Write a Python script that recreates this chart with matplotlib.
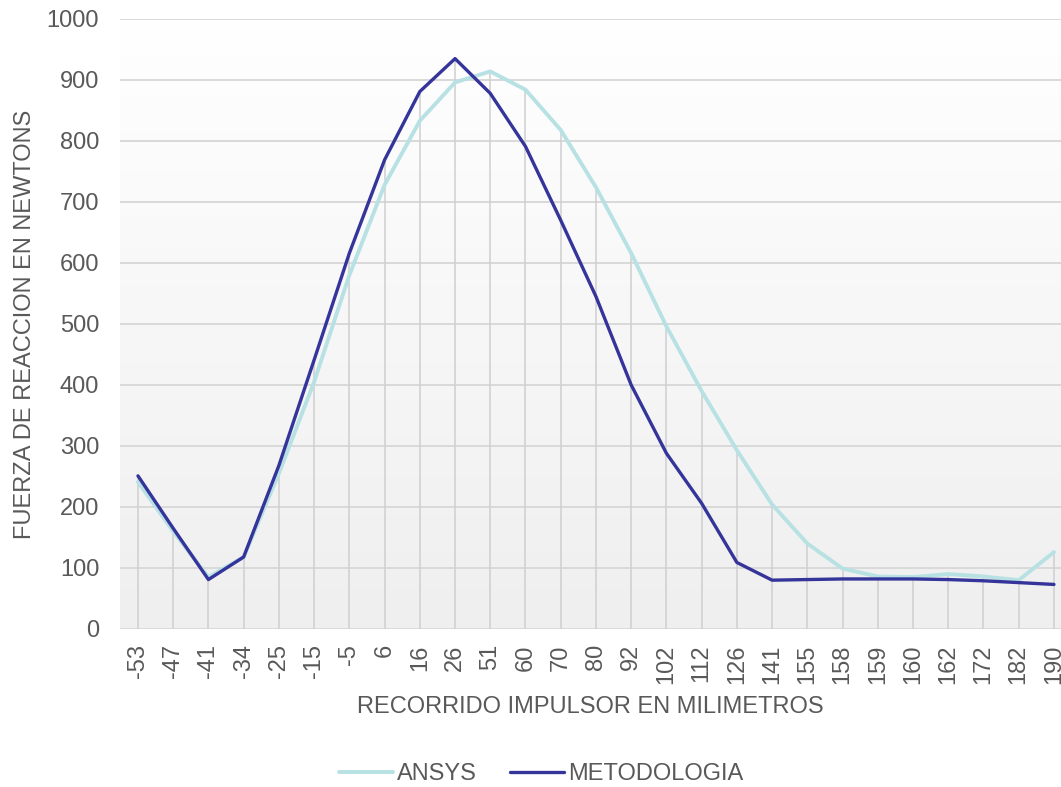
import matplotlib.pyplot as plt
import numpy as np

# Reaction force vs. impeller travel: FEA (ANSYS) against the hand methodology
recorrido_mm = [-53, -47, -41, -34, -25, -15, -5, 6, 16, 26, 51, 60, 70, 80,
                92, 102, 112, 126, 141, 155, 158, 159, 160, 162, 172, 182, 190]

ansys_n = [241, 160, 85, 118, 255, 405, 580, 728, 833, 896, 914, 884, 818, 724,
           616, 496, 390, 293, 204, 140, 99, 86, 85, 90, 86, 80, 126]

metodologia_n = [251, 165, 81, 118, 268, 441, 616, 769, 881, 935, 878, 791, 670, 545,
                 400, 288, 206, 109, 80, 81, 82, 82, 82, 81, 79, 76, 73]

TEXT_GREY = "#595959"
GRID_GREY = "#d9d9d9"
ANSYS_COLOR = "#b7e1e3"
METODO_COLOR = "#34349a"

plt.rcParams["font.family"] = ["Liberation Sans", "DejaVu Sans"]

fig = plt.figure(figsize=(10.61, 7.87), dpi=100)
ax = fig.add_axes([0.1131, 0.2008, 0.8869, 0.7751])

x = np.arange(len(recorrido_mm))
ansys = np.array(ansys_n)
metodo = np.array(metodologia_n)

# plot area fades from white at the top to light grey at the bottom
gradient = np.linspace(1.0, 0.0, 256).reshape(-1, 1)
ax.imshow(gradient, extent=[0, 1, 0, 1], transform=ax.transAxes,
          cmap=plt.matplotlib.colors.LinearSegmentedColormap.from_list(
              "bg", ["#efefef", "#ffffff"]),
          aspect="auto", zorder=0)

# horizontal gridlines
for yv in range(0, 1001, 100):
    ax.axhline(yv, color=GRID_GREY, linewidth=1.4, zorder=1)

# drop lines from the highest point of each category
ax.vlines(x, 0, np.maximum(ansys, metodo), color="#cfcfcf", linewidth=1.1, zorder=1)

ax.plot(x, ansys, color=ANSYS_COLOR, linewidth=2.8, label="ANSYS",
        solid_capstyle="round", zorder=3)
ax.plot(x, metodo, color=METODO_COLOR, linewidth=2.4, label="METODOLOGIA",
        solid_capstyle="round", zorder=4)

ax.set_xlim(-0.51, 26.2)
ax.set_ylim(0, 1000)
ax.set_yticks(range(0, 1001, 100))
ax.set_xticks(x)
ax.set_xticklabels([str(v) for v in recorrido_mm], rotation=90)

for side in ["top", "right", "left", "bottom"]:
    ax.spines[side].set_visible(False)

ax.tick_params(axis="both", length=0, labelsize=17, labelcolor=TEXT_GREY)
ax.tick_params(axis="y", pad=15)
ax.tick_params(axis="x", pad=11)

ax.set_xlabel("RECORRIDO IMPULSOR EN MILIMETROS", fontsize=17,
              color=TEXT_GREY, labelpad=9)
ax.set_ylabel("FUERZA DE REACCION EN NEWTONS", fontsize=17,
              color=TEXT_GREY, labelpad=8)

fig.legend(loc="center", bbox_to_anchor=(0.51, 0.0165), ncol=2, frameon=False,
           fontsize=17, handlelength=2.3, handletextpad=0.15, columnspacing=1.4,
           labelcolor=TEXT_GREY)

fig.savefig("out.png", dpi=100)
plt.close(fig)
